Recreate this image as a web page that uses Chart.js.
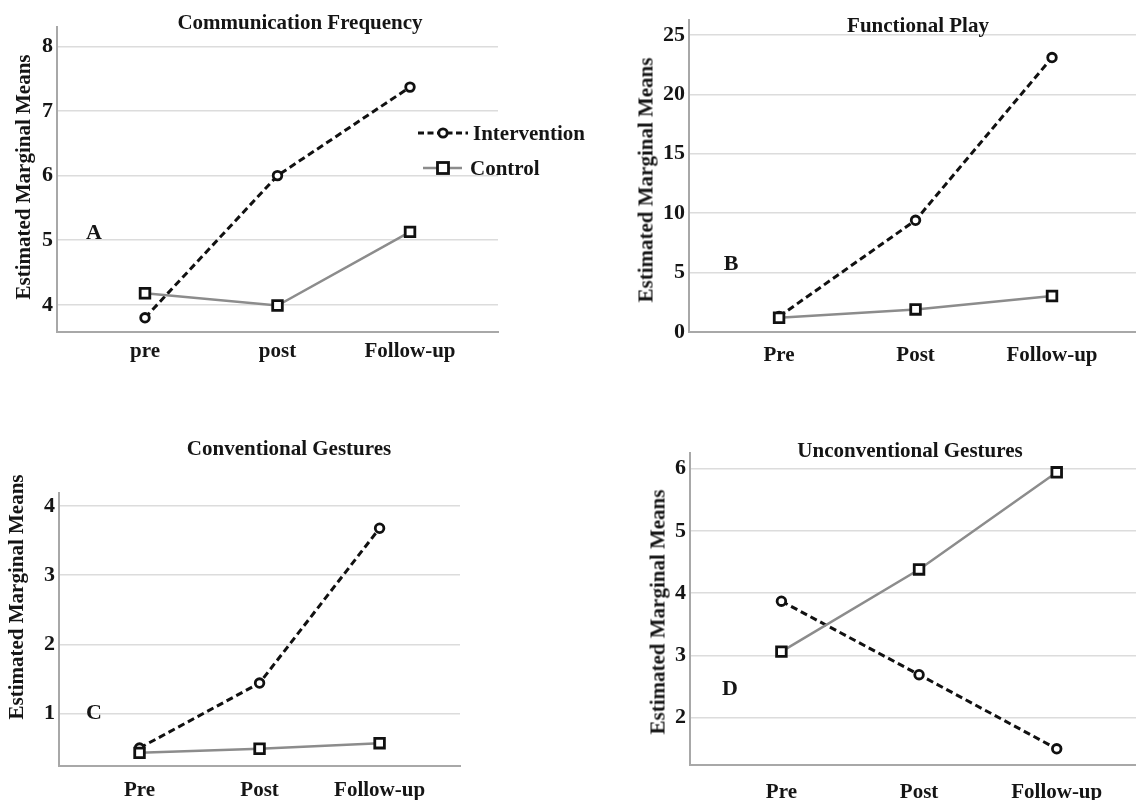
<!DOCTYPE html>
<html><head><meta charset="utf-8">
<script src="https://cdn.jsdelivr.net/npm/chart.js@4.4.1/dist/chart.umd.min.js"></script>
<style>
html,body{margin:0;padding:0;background:#fff;width:1136px;height:800px;overflow:hidden;position:relative;font-family:"Liberation Serif","Times New Roman",serif;font-weight:bold;color:#151515}
canvas{position:absolute}
.t{position:absolute;white-space:nowrap;line-height:1;font-size:21px;transform:translate(-50%,-50%)}
.r{transform:translate(-50%,-50%) rotate(-90deg)}
.big{font-size:22px}
.l{position:absolute;white-space:nowrap;line-height:1;font-size:21px;transform:translateY(-50%)}
svg{position:absolute}
</style></head><body>
<canvas id="cA" width="568" height="400" style="left:0;top:0"></canvas>
<canvas id="cB" width="590" height="400" style="left:568px;top:0"></canvas>
<canvas id="cC" width="568" height="400" style="left:0;top:400px"></canvas>
<canvas id="cD" width="590" height="400" style="left:568px;top:400px"></canvas>

<div class="t" style="left:300px;top:22px">Communication Frequency</div>
<div class="t" style="left:918px;top:25px">Functional Play</div>
<div class="t" style="left:289px;top:448px">Conventional Gestures</div>
<div class="t" style="left:910px;top:450px">Unconventional Gestures</div>

<div class="t r" style="left:23px;top:177px">Estimated Marginal Means</div>
<div class="t r" style="left:646px;top:180px">Estimated Marginal Means</div>
<div class="t r" style="left:16px;top:597px">Estimated Marginal Means</div>
<div class="t r" style="left:658px;top:612px">Estimated Marginal Means</div>

<div class="t big" style="left:94px;top:232px">A</div>
<div class="t big" style="left:731px;top:263px">B</div>
<div class="t big" style="left:94px;top:712px">C</div>
<div class="t big" style="left:730px;top:688px">D</div>

<svg width="70" height="65" style="left:410px;top:118px">
  <line x1="8" y1="15" x2="58" y2="15" stroke="#111" stroke-width="3" stroke-dasharray="6,3.5"/>
  <circle cx="33" cy="15" r="4.2" fill="#fff" stroke="#111" stroke-width="2.8"/>
  <line x1="13" y1="50" x2="52" y2="50" stroke="#8c8c8c" stroke-width="2.5"/>
  <rect x="27.5" y="44.5" width="11" height="11" fill="#fff" stroke="#111" stroke-width="2.8"/>
</svg>
<div class="l" style="left:473px;top:133px" id="lg1"></div>
<div class="l" style="left:470px;top:168px" id="lg2"></div>

<script>
// ---- data ----
const categoriesA = ['pre', 'post', 'Follow-up'];
const categoriesBCD = ['Pre', 'Post', 'Follow-up'];
const seriesNames = ['Intervention', 'Control'];

const commIntervention = [3.8, 6.0, 7.37];
const commControl = [4.18, 3.99, 5.13];
const playIntervention = [1.3, 9.4, 23.1];
const playControl = [1.2, 1.9, 3.03];
const convIntervention = [0.5, 1.44, 3.68];
const convControl = [0.43, 0.49, 0.57];
const unconvIntervention = [3.87, 2.69, 1.5];
const unconvControl = [3.06, 4.38, 5.94];

const ticksA = [4, 5, 6, 7, 8];
const ticksB = [0, 5, 10, 15, 20, 25];
const ticksC = [1, 2, 3, 4];
const ticksD = [2, 3, 4, 5, 6];

document.getElementById('lg1').textContent = seriesNames[0];
document.getElementById('lg2').textContent = seriesNames[1];

// ---- layout (pixel geometry of each panel) ----
const layouts = {
  A: {cx: 0,   cy: 0,   W: 568, axisX: 57,  top: 27,  right: 498,  bottom: 332, xmin: -0.664, xmax: 2.664, ymin: 3.58, ymax: 8.3,   xpad: 7},
  B: {cx: 568, cy: 0,   W: 590, axisX: 689, top: 20,  right: 1144, bottom: 332, xmin: -0.66,  xmax: 2.674, ymin: 0,    ymax: 26.26, xpad: 11},
  C: {cx: 0,   cy: 400, W: 568, axisX: 59,  top: 493, right: 460,  bottom: 766, xmin: -0.671, xmax: 2.67,  ymin: 0.24, ymax: 4.19,  xpad: 12},
  D: {cx: 568, cy: 400, W: 590, axisX: 690, top: 453, right: 1144, bottom: 765, xmin: -0.664, xmax: 2.634, ymin: 1.24, ymax: 6.25,  xpad: 15}
};

Chart.defaults.font.family = '"Liberation Serif","Times New Roman",serif';
Chart.defaults.font.size = 21;
Chart.defaults.font.weight = 'bold';
Chart.defaults.color = '#151515';

function makeChart(id, cats, interv, control, yTicks, L) {
  const W = L.W, H = 400;
  const toPts = arr => arr.map((v, i) => ({x: i, y: v}));
  return new Chart(document.getElementById(id), {
    type: 'line',
    data: {
      datasets: [
        {
          label: seriesNames[0], data: toPts(interv), order: 1, clip: false,
          borderColor: '#111', borderWidth: 3, borderDash: [7, 4],
          pointStyle: 'circle', pointRadius: 4.3, pointBorderWidth: 2.8,
          pointBackgroundColor: '#fff', pointBorderColor: '#111', tension: 0
        },
        {
          label: seriesNames[1], data: toPts(control), order: 0, clip: false,
          borderColor: '#8c8c8c', borderWidth: 2.5,
          pointStyle: 'rect', pointRadius: 6.8, pointBorderWidth: 2.8,
          pointBackgroundColor: '#fff', pointBorderColor: '#111', tension: 0
        }
      ]
    },
    options: {
      responsive: false, animation: false, devicePixelRatio: 1,
      layout: {padding: {left: 0, bottom: 0, top: L.top - L.cy, right: (L.cx + W) - L.right}},
      plugins: {legend: {display: false}, tooltip: {enabled: false}, title: {display: false}},
      scales: {
        x: {
          type: 'linear', min: L.xmin, max: L.xmax,
          afterBuildTicks: s => { s.ticks = cats.map((c, i) => ({value: i})); },
          afterFit: s => { s.height = (L.cy + H) - L.bottom; },
          ticks: {callback: v => cats[v], padding: L.xpad, autoSkip: false, maxRotation: 0, color: '#151515'},
          grid: {display: false, drawTicks: false},
          border: {display: true, color: '#a8a8a8', width: 2}
        },
        y: {
          min: L.ymin, max: L.ymax,
          afterBuildTicks: s => { s.ticks = yTicks.map(v => ({value: v})); },
          afterFit: s => { s.width = L.axisX - L.cx; },
          ticks: {padding: 4, color: '#151515', font: {size: 22}},
          grid: {color: '#dcdcdc', lineWidth: 1.5, drawTicks: false},
          border: {display: true, color: '#a8a8a8', width: 2}
        }
      }
    }
  });
}

makeChart('cA', categoriesA, commIntervention, commControl, ticksA, layouts.A);
makeChart('cB', categoriesBCD, playIntervention, playControl, ticksB, layouts.B);
makeChart('cC', categoriesBCD, convIntervention, convControl, ticksC, layouts.C);
makeChart('cD', categoriesBCD, unconvIntervention, unconvControl, ticksD, layouts.D);
</script>
</body></html>
